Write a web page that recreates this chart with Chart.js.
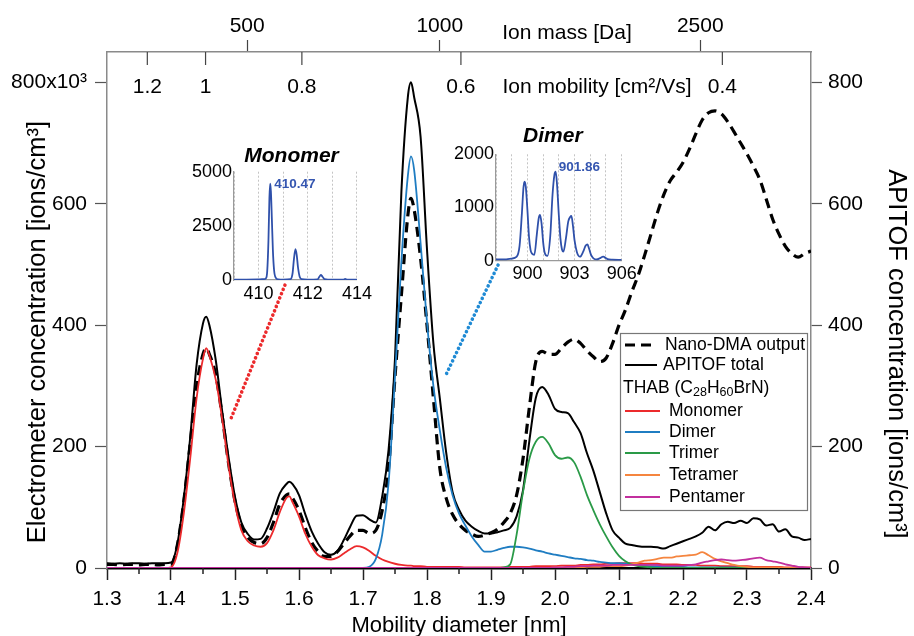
<!DOCTYPE html>
<html>
<head>
<meta charset="utf-8">
<script src="https://cdn.jsdelivr.net/npm/chart.js@4.4.1/dist/chart.umd.min.js"></script>
<style>
  html, body { margin:0; padding:0; background:#fff; }
  #wrap { position:relative; width:914px; height:636px; overflow:hidden; }
  canvas { position:absolute; }
</style>
</head>
<body>
<div id="wrap">
  <canvas id="main" width="914" height="636" style="left:0;top:0"></canvas>
  <canvas id="mono" width="190" height="170" style="left:185px;top:140px"></canvas>
  <canvas id="dimer" width="195" height="175" style="left:445px;top:115px"></canvas>
</div>
<script>
// ---------------- DATA ----------------
const diameter = [
  1.30,1.31,1.32,1.33,1.34,1.35,1.36,1.37,1.38,1.39,1.40,
  1.41,1.42,1.43,1.44,1.45,1.455,1.46,1.47,1.48,1.49,1.50,
  1.51,1.52,1.53,1.54,1.55,1.56,1.57,1.58,1.585,1.59,1.60,
  1.61,1.62,1.63,1.64,1.65,1.66,1.67,1.68,1.69,1.70,1.71,1.72,1.73,1.74,1.75,1.76,1.77,1.775,
  1.78,1.79,1.80,1.81,1.82,1.83,1.84,1.85,1.86,1.87,1.88,1.89,1.90,
  1.91,1.92,1.93,1.94,1.95,1.96,1.97,1.98,1.99,2.00,2.01,2.02,2.03,2.04,2.05,2.06,2.07,2.08,2.09,2.10,
  2.11,2.12,2.13,2.14,2.15,2.16,2.17,2.18,2.19,2.20,2.21,2.22,2.23,2.24,2.25,2.26,2.27,2.28,2.29,2.30,
  2.31,2.32,2.33,2.34,2.35,2.36,2.37,2.38,2.39,2.40
];
const nanoDMA = [
  6,6,5,6,6,5,6,6,5,6,6,
  38,110,205,300,352,362,352,318,250,172,110,
  70,50,42,40,50,75,105,120,122,115,95,
  66,42,27,19,19,27,40,53,62,62,57,62,95,165,315,450,580,609,
  590,510,400,280,165,115,88,72,62,56,52,54,58,
  64,75,90,120,180,265,340,357,352,352,362,372,377,370,358,348,340,346,370,400,
  425,455,482,515,550,585,615,638,652,668,690,715,738,750,753,748,735,718,700,682,
  662,640,608,575,550,530,518,512,518,522
];
const apitofTotal = [
  8,7,8,7,8,8,7,8,8,8,9,
  40,115,215,335,403,414,400,342,258,182,117,
  75,56,47,48,65,92,123,138,142,138,120,
  88,60,40,26,22,28,46,68,86,87,80,75,118,195,345,620,775,800,
  775,710,525,370,280,190,125,96,78,68,61,57,57,
  59,62,66,85,128,210,280,298,285,262,257,255,240,222,189,160,125,90,62,50,
  40,38,36,35,35,34,32,36,40,44,48,52,58,68,62,72,76,74,78,74,
  82,80,70,72,60,64,52,50,46,48
];
const monomer = [
  0,0,0,0,0,0,0,0,0,0,1,
  25,90,180,280,345,362,350,310,245,168,105,
  62,44,37,35,41,62,92,115,118,108,85,
  56,35,21,16,14,17,24,31,36,34,28,20,14,10,7,5,4,4,
  3,3,2,2,2,2,2,2,1,1,1,1,1,
  1,1,2,2,2,2,3,3,3,3,4,4,4,5,5,6,6,7,7,8,
  8,8,8,7,7,7,6,6,6,5,5,5,4,4,4,3,3,3,3,3,
  2,2,2,2,2,1,1,1,1,1
];
const dimer = [
  0,0,0,0,0,0,0,0,0,0,0,
  0,0,0,0,0,0,0,0,0,0,0,
  0,0,0,0,0,0,0,0,0,0,0,
  0,0,0,0,0,0,0,0,0,0,2,15,55,140,315,505,645,678,
  655,535,405,300,227,165,120,90,70,52,38,27,27,
  30,33,35,35,34,32,29,27,24,22,20,18,16,15,13,12,10,9,8,8,
  7,6,5,4,3,3,2,2,2,2,1,1,1,1,1,1,1,1,1,1,
  0,0,0,0,0,0,0,0,0,0
];
const trimer = [
  0,0,0,0,0,0,0,0,0,0,0,
  0,0,0,0,0,0,0,0,0,0,0,
  0,0,0,0,0,0,0,0,0,0,0,
  0,0,0,0,0,0,0,0,0,0,0,0,0,0,0,0,0,0,
  0,0,0,0,0,0,0,0,0,0,0,0,0,
  0,1,6,55,125,180,208,216,205,186,180,182,174,150,120,95,72,52,34,20,
  11,6,3,2,1,0,0,0,0,0,0,0,0,0,0,0,0,0,0,0,
  0,0,0,0,0,0,0,0,0,0
];
const tetramer = [
  0,0,0,0,0,0,0,0,0,0,0,
  0,0,0,0,0,0,0,0,0,0,0,
  0,0,0,0,0,0,0,0,0,0,0,
  0,0,0,0,0,0,0,0,0,0,0,0,0,0,0,0,0,0,
  0,0,0,0,0,0,0,0,0,0,0,0,0,
  0,0,0,0,0,0,0,0,0,1,1,1,1,1,2,2,2,3,3,3,
  4,6,9,12,13,15,17,17,19,20,21,22,26,21,15,11,8,5,3,2,
  1,1,1,1,1,0,0,0,0,0
];
const pentamer = [
  0,0,0,0,0,0,0,0,0,0,0,
  0,0,0,0,0,0,0,0,0,0,0,
  0,0,0,0,0,0,0,0,0,0,0,
  0,0,0,0,0,0,0,0,0,0,0,0,0,0,0,0,0,0,
  0,0,0,0,0,0,0,0,0,0,0,0,0,
  0,0,0,0,0,0,0,0,0,1,1,2,2,3,3,4,4,4,5,5,
  5,5,5,5,5,5,4,4,4,4,5,6,9,11,13,14,13,12,13,14,
  16,17,13,11,9,6,4,2,1,0
];

// axis ticks
const xTickValues = [1.3,1.4,1.5,1.6,1.7,1.8,1.9,2.0,2.1,2.2,2.3,2.4];
const xMinorTicks = [1.35,1.45,1.55,1.65,1.75,1.85,1.95,2.05,2.15,2.25,2.35];
const yTickValues = [0,200,400,600,800];
const yLeftLabels = ['0','200','400','600','800x10³'];
const yRightLabels = ['0','200','400','600','800'];
const massTickLabels = ['500','1000','2500'];
const massTickDiameter = [1.519,1.820,2.227];
const mobilityTickLabels = ['1.2','1','0.8','0.6','0.4'];
const mobilityTickDiameter = [1.363,1.454,1.6045,1.853,2.2615];

// inset spectra
const monoMz = [409.0,409.5,410.0,410.2,410.3,410.35,410.4,410.44,410.47,410.5,410.54,410.58,410.63,410.7,410.8,
  411.0,411.3,411.38,411.44,411.5,411.55,411.6,411.67,411.75,412.0,412.4,412.47,412.53,412.6,412.68,
  413.0,413.45,413.52,413.6,414.0];
const monoIntensity = [20,20,25,40,80,400,1800,3800,4450,4100,2800,1400,450,100,30,
  20,40,300,1000,1420,1150,600,150,40,20,30,150,230,150,40,
  15,20,50,20,15];
const monoGrid = [409,410,411,412,413,414];
const monoTickLabels = [410,412,414];
const monoYTicks = [0,2500,5000];

const dimerMz = [898.0,898.5,899.0,899.3,899.5,899.65,899.75,899.82,899.9,900.0,
  900.1,900.2,900.3,900.44,900.6,900.72,900.8,900.9,901.0,901.1,
  901.27,901.45,901.6,901.72,901.8,901.88,902.0,902.1,902.2,902.29,
  902.45,902.6,902.72,902.8,902.9,903.0,903.15,903.35,903.55,903.7,
  903.82,903.92,904.05,904.2,904.41,904.6,904.75,904.84,904.95,905.1,
  905.4,906.0];
const dimerIntensity = [25,25,40,70,280,900,1380,1486,1380,950,
  450,200,130,110,500,800,860,700,350,150,
  90,450,1250,1620,1674,1450,850,420,210,170,
  420,740,820,840,650,380,160,75,170,280,
  307,230,110,45,25,45,70,78,55,30,
  20,15];
const dimerGrid = [898,899,900,901,902,903,904,905,906];
const dimerTickLabels = [900,903,906];
const dimerYTicks = [0,1000,2000];

// connector lines (diameter, concentration)
const monoConnector = [[1.578,466],[1.494,247]];
const dimerConnector = [[1.911,499],[1.830,319]];

// ---------------- STYLE ----------------
const FONT = '"Liberation Sans", Arial, Helvetica, sans-serif';
Chart.defaults.font.family = FONT;
Chart.defaults.color = '#000';
const COL = { mono:'#ec2a2c', dimer:'#1f7dc2', trimer:'#2a9a47', tetra:'#f5853f', penta:'#c22f9e' };

function pts(vals){ return diameter.map((d,i)=>({x:d, y:vals[i]})); }
function line(label, vals, color, width, dash){
  return { label, data: pts(vals), borderColor: color, borderWidth: width, borderDash: dash || [],
           pointRadius: 0, fill: false, cubicInterpolationMode: 'monotone' };
}

const decor = {
  id: 'decor',
  afterDraw(chart){
    const {ctx, chartArea:a, scales:{x, y}} = chart;
    ctx.save();
    // minor ticks on bottom axis
    ctx.strokeStyle = '#222'; ctx.lineWidth = 1.5;
    xMinorTicks.forEach(v=>{ const px = x.getPixelForValue(v);
      ctx.beginPath(); ctx.moveTo(px, a.bottom); ctx.lineTo(px, a.bottom+6); ctx.stroke(); });
    // mobility axis (inside top)
    ctx.strokeStyle = '#444'; ctx.lineWidth = 1.2;
    ctx.font = '21px ' + FONT; ctx.fillStyle = '#000';
    ctx.textAlign = 'center'; ctx.textBaseline = 'middle';
    mobilityTickDiameter.forEach((d,i)=>{ const px = x.getPixelForValue(d);
      ctx.beginPath(); ctx.moveTo(px, a.top); ctx.lineTo(px, a.top+13); ctx.stroke();
      ctx.fillText(mobilityTickLabels[i], px, a.top+35); });
    ctx.fillText('Ion mobility [cm²/Vs]', 597, a.top+35);
    ctx.fillText('Ion mass [Da]', 567, 33);
    // y titles
    ctx.font = '25.5px ' + FONT;
    ctx.save(); ctx.translate(38, 332); ctx.rotate(-Math.PI/2);
    ctx.fillText('Electrometer concentration [ions/cm³]', 0, 0); ctx.restore();
    ctx.save(); ctx.translate(896, 354); ctx.rotate(Math.PI/2);
    ctx.fillText('APITOF concentration [ions/cm³]', 0, 0); ctx.restore();
    // connectors
    [[monoConnector, COL.mono],[dimerConnector, '#1f8ad4']].forEach(([c,col])=>{
      ctx.save(); ctx.strokeStyle = col; ctx.lineWidth = 3.6; ctx.lineCap = 'round';
      ctx.setLineDash([0.01, 4.6]); ctx.beginPath();
      ctx.moveTo(x.getPixelForValue(c[0][0]), y.getPixelForValue(c[0][1]));
      ctx.lineTo(x.getPixelForValue(c[1][0]), y.getPixelForValue(c[1][1]));
      ctx.stroke(); ctx.restore(); });
    // legend
    const L = 620.5, T = 333.5, W = 187, H = 177;
    ctx.fillStyle = '#fff'; ctx.fillRect(L, T, W, H);
    ctx.strokeStyle = '#777'; ctx.lineWidth = 1.2; ctx.strokeRect(L, T, W, H);
    const ds = Object.fromEntries(chart.data.datasets.map(d=>[d.label, d]));
    ctx.font = '17.5px ' + FONT; ctx.textAlign = 'left'; ctx.textBaseline = 'middle'; ctx.fillStyle = '#000';
    const row = (label, y0, x1, x2, tx) => {
      const d = ds[label];
      ctx.save(); ctx.strokeStyle = d.borderColor; ctx.lineWidth = Math.min(d.borderWidth, 3);
      ctx.setLineDash(d.borderDash || []); ctx.beginPath(); ctx.moveTo(x1, y0); ctx.lineTo(x2, y0); ctx.stroke(); ctx.restore();
      ctx.fillText(label, tx, y0);
    };
    row('Nano-DMA output', 345, 625, 656, 665);
    row('APITOF total', 365, 625, 657, 663);
    // THAB header with subscripts
    let tx = 623; const ty = 388;
    const seg = (t, sub) => { ctx.font = (sub ? '12.5px ' : '17.5px ') + FONT;
      ctx.fillText(t, tx, sub ? ty+5 : ty); tx += ctx.measureText(t).width; };
    seg('THAB (C'); seg('28', true); seg('H'); seg('60', true); seg('BrN)');
    ctx.font = '17.5px ' + FONT;
    [['Monomer',411],['Dimer',432],['Trimer',453],['Tetramer',475],['Pentamer',497]].forEach(([lab,yy])=>{
      const d = ds[lab]; ctx.save(); ctx.strokeStyle = d.borderColor; ctx.lineWidth = 2;
      ctx.beginPath(); ctx.moveTo(625, yy); ctx.lineTo(660, yy); ctx.stroke(); ctx.restore();
      ctx.fillText(lab, 669, yy); });
    ctx.restore();
  }
};

new Chart(document.getElementById('main'), {
  type: 'line',
  data: { datasets: [
    line('Pentamer', pentamer, COL.penta, 1.8),
    line('Tetramer', tetramer, COL.tetra, 1.8),
    line('Trimer', trimer, COL.trimer, 1.8),
    line('Dimer', dimer, COL.dimer, 1.8),
    line('Monomer', monomer, COL.mono, 1.8),
    line('APITOF total', apitofTotal, '#000', 2),
    line('Nano-DMA output', nanoDMA, '#000', 3.2, [10,6])
  ]},
  options: {
    responsive: false, animation: false, parsing: true,
    layout: { padding: 0 },
    plugins: { legend: { display:false }, tooltip: { enabled:false } },
    scales: {
      x: { type:'linear', position:'bottom', min:1.3, max:2.4,
        afterBuildTicks: s => { s.ticks = xTickValues.map(v=>({value:v})); },
        ticks: { callback: v => Number(v).toFixed(1), font:{size:21}, padding:7, maxRotation:0, autoSkip:false, color:'#000' },
        grid: { drawOnChartArea:false, tickLength:12, tickColor:'#222', tickWidth:1.5 },
        border: { color:'#000', width:2.5 },
        title: { display:true, text:'Mobility diameter [nm]', font:{size:22}, padding:{top:0, bottom:-3}, color:'#000' },
        afterFit: s => { s.height = 68; } },
      xMass: { type:'linear', position:'top', min:1.3, max:2.4,
        afterBuildTicks: s => { s.ticks = massTickDiameter.map(v=>({value:v})); },
        ticks: { callback: (v,i) => massTickLabels[i], font:{size:21}, padding:1, maxRotation:0, autoSkip:false, color:'#000' },
        grid: { drawOnChartArea:false, tickLength:12, tickColor:'#444', tickWidth:1.2 },
        border: { color:'#8a8a8a', width:1.5 },
        afterFit: s => { s.height = 52; } },
      y: { type:'linear', position:'left', min:0, max:850,
        afterBuildTicks: s => { s.ticks = yTickValues.map(v=>({value:v})); },
        ticks: { callback: (v,i) => yLeftLabels[i], font:{size:21}, padding:8, color:'#000' },
        grid: { drawOnChartArea:false, tickLength:12, tickColor:'#555', tickWidth:1.2 },
        border: { color:'#8a8a8a', width:1.5 },
        afterFit: s => { s.width = 107; } },
      y2: { type:'linear', position:'right', min:0, max:850,
        afterBuildTicks: s => { s.ticks = yTickValues.map(v=>({value:v})); },
        ticks: { callback: (v,i) => yRightLabels[i], font:{size:21}, padding:6, color:'#000' },
        grid: { drawOnChartArea:false, tickLength:11, tickColor:'#555', tickWidth:1.2 },
        border: { color:'#8a8a8a', width:1.5 },
        afterFit: s => { s.width = 103; } }
    }
  },
  plugins: [decor]
});

// ---------------- INSETS ----------------
function insetDecor(title, titleDx, titleDy, peak, label, ldx, ldy){
  return { id:'insetDecor', afterDraw(chart){
    const {ctx, chartArea:a, scales:{x, y}} = chart;
    ctx.save();
    ctx.font = 'italic bold 21px ' + FONT; ctx.fillStyle = '#000';
    ctx.textAlign = 'center'; ctx.textBaseline = 'middle';
    ctx.fillText(title, (a.left+a.right)/2 + titleDx, a.top + titleDy);
    ctx.font = 'bold 13.5px ' + FONT; ctx.fillStyle = '#3556b0'; ctx.textAlign = 'left';
    ctx.fillText(label, x.getPixelForValue(peak[0]) + ldx, y.getPixelForValue(peak[1]) + ldy);
    ctx.restore();
  }};
}
function inset(id, mz, inten, xmin, xmax, grid, xlabels, yticks, pad, yW, xH, deco){
  new Chart(document.getElementById(id), {
    type:'line',
    data:{ datasets:[{ data: mz.map((m,i)=>({x:m, y:inten[i]})), borderColor:'#2f50aa', borderWidth:1.8,
      pointRadius:0, fill:false, cubicInterpolationMode:'monotone' }]},
    options:{ responsive:false, animation:false,
      layout:{ padding: pad },
      plugins:{ legend:{display:false}, tooltip:{enabled:false} },
      scales:{
        x:{ type:'linear', min:xmin, max:xmax,
          afterBuildTicks: s => { s.ticks = grid.map(v=>({value:v})); },
          ticks:{ callback: v => xlabels.includes(v) ? String(v) : '', font:{size:18}, padding:3, maxRotation:0, autoSkip:false, color:'#000' },
          grid:{ color:'#c4c4c4', lineWidth:1, drawTicks:false },
          border:{ color:'#9a9a9a', width:1.2, dash:[2,2] },
          afterFit: s => { s.height = xH; } },
        y:{ type:'linear', min:yticks[0], max:yticks[yticks.length-1],
          afterBuildTicks: s => { s.ticks = yticks.map(v=>({value:v})); },
          ticks:{ callback: v => String(v), font:{size:18}, padding:2, color:'#000' },
          grid:{ display:false, drawTicks:false },
          border:{ color:'#9a9a9a', width:1.2 },
          afterFit: s => { s.width = yW; } }
      }
    },
    plugins:[deco]
  });
}
inset('mono', monoMz, monoIntensity, 409, 414, monoGrid, monoTickLabels, monoYTicks,
  {top:31.7, right:16, left:0, bottom:0}, 49, 30,
  insetDecor('Monomer', -4, -15, [410.47, 4450], '410.47', 4, 1));
inset('dimer', dimerMz, dimerIntensity, 898, 906, dimerGrid, dimerTickLabels, dimerYTicks,
  {top:39.3, right:18.3, left:0, bottom:0}, 51, 29.3,
  insetDecor('Dimer', -6, -17.6, [901.8, 1674], '901.86', 3, -4));
</script>
</body>
</html>
